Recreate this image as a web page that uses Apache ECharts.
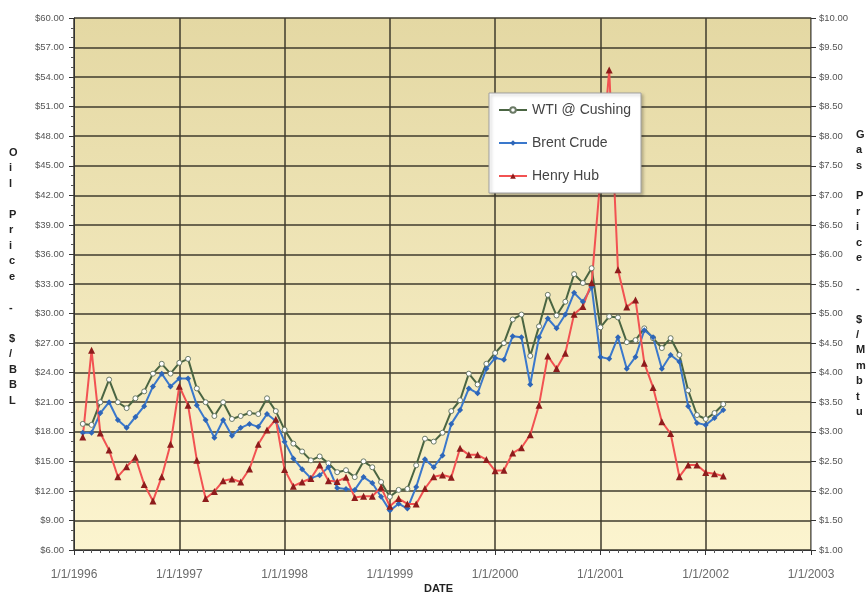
<!DOCTYPE html>
<html>
<head>
    <meta charset="utf-8">
    <title>Oil and Gas Prices</title>
    <script src="https://cdn.jsdelivr.net/npm/echarts@6/dist/echarts.min.js"></script>
</head>
<body style="margin:0;background:#fff;">
<div id="main" style="width:868px;height:592px;"></div>
<script type="text/javascript">
    // monthly points, the first one is Feb 1996 (month offset 1 from 1/1/1996)
    var firstMonth = 1;
    var yearLabels = ['1/1/1996', '1/1/1997', '1/1/1998', '1/1/1999', '1/1/2000', '1/1/2001', '1/1/2002', '1/1/2003'];

    // $/BBL
    var wti = [18.8, 18.7, 21.0, 23.3, 21.0, 20.4, 21.4, 22.1, 23.9, 24.9, 23.9, 25.0,
        25.4, 22.4, 21.0, 19.6, 21.0, 19.3, 19.6, 19.9, 19.8, 21.4, 20.1, 18.2,
        16.8, 16.0, 15.1, 15.5, 14.8, 13.9, 14.1, 13.4, 15.0, 14.4, 12.9, 11.4,
        12.1, 12.2, 14.6, 17.3, 17.0, 17.9, 20.1, 21.2, 23.9, 22.8, 24.9, 26.0,
        27.0, 29.4, 29.9, 25.7, 28.7, 31.9, 29.8, 31.2, 34.0, 33.1, 34.6, 28.6,
        29.7, 29.6, 27.1, 27.3, 28.5, 27.5, 26.5, 27.5, 25.8, 22.2, 19.7, 19.3,
        19.9, 20.8];
    var brent = [17.9, 17.9, 19.9, 21.0, 19.2, 18.4, 19.5, 20.6, 22.6, 23.9, 22.6, 23.4,
        23.4, 20.7, 19.2, 17.4, 19.2, 17.6, 18.4, 18.8, 18.5, 19.8, 19.1, 17.0,
        15.3, 14.2, 13.3, 13.6, 14.4, 12.3, 12.2, 12.1, 13.4, 12.8, 11.4, 10.0,
        10.7, 10.2, 12.4, 15.2, 14.4, 15.6, 18.8, 20.2, 22.4, 21.9, 24.4, 25.5,
        25.3, 27.7, 27.6, 22.8, 27.6, 29.5, 28.5, 29.9, 32.1, 31.2, 32.7, 25.6,
        25.4, 27.6, 24.4, 25.6, 28.3, 27.6, 24.4, 25.8, 25.1, 20.6, 18.9, 18.7,
        19.4, 20.2];
    // $/Mmbtu
    var henryHub = [2.91, 4.38, 2.98, 2.69, 2.24, 2.41, 2.57, 2.11, 1.83, 2.24, 2.79, 3.77,
        3.45, 2.52, 1.87, 1.99, 2.17, 2.20, 2.15, 2.37, 2.79, 3.03, 3.21, 2.36,
        2.08, 2.15, 2.21, 2.44, 2.17, 2.16, 2.23, 1.89, 1.91, 1.91, 2.06, 1.74,
        1.87, 1.78, 1.78, 2.04, 2.24, 2.27, 2.23, 2.72, 2.61, 2.61, 2.53, 2.34,
        2.35, 2.64, 2.73, 2.95, 3.45, 4.28, 4.07, 4.33, 4.99, 5.12, 5.52, 7.30,
        9.12, 5.74, 5.11, 5.23, 4.16, 3.75, 3.17, 2.97, 2.24, 2.44, 2.44, 2.31,
        2.29, 2.25];

    function toPoints(arr) {
        return arr.map(function (v, i) { return [firstMonth + i, v]; });
    }

    var font = 'Liberation Sans, Arial, sans-serif';
    var gridColor = '#3f3b2c';

    var myChart = echarts.init(document.getElementById('main'));
    var option = {
        backgroundColor: '#fff',
        animation: false,
        textStyle: { fontFamily: font },
        grid: {
            left: 74, right: 57, top: 18, bottom: 42,
            show: true,
            borderWidth: 0,
            backgroundColor: new echarts.graphic.LinearGradient(0, 0, 0, 1, [
                { offset: 0, color: '#e4d8a3' },
                { offset: 1, color: '#fcf4cf' }
            ])
        },
        legend: {
            orient: 'vertical',
            left: 489, top: 93,
            padding: [10, 10, 10, 9],
            itemWidth: 28, itemHeight: 7, itemGap: 19,
            backgroundColor: '#fff',
            borderColor: '#a0a0a0', borderWidth: 1,
            shadowColor: 'rgba(0,0,0,0.25)', shadowBlur: 3, shadowOffsetX: 2, shadowOffsetY: 2,
            textStyle: { fontSize: 14, color: '#444', fontFamily: font },
            data: ['WTI @ Cushing', 'Brent Crude', 'Henry Hub']
        },
        xAxis: {
            type: 'value',
            min: 0, max: 84, interval: 12,
            axisLine: { show: true, lineStyle: { color: '#333', width: 1 } },
            axisTick: { show: true, length: 5, lineStyle: { color: '#333' } },
            minorTick: { show: true, splitNumber: 12, length: 3, lineStyle: { color: '#555' } },
            splitLine: { show: true, lineStyle: { color: gridColor, width: 1.5 } },
            axisLabel: {
                margin: 19, fontSize: 12, color: '#6a6a6a',
                formatter: function (v) { return yearLabels[v / 12]; }
            }
        },
        yAxis: [{
            type: 'value',
            min: 6, max: 60, interval: 3,
            axisLine: { show: true, lineStyle: { color: '#333', width: 1 } },
            axisTick: { show: true, length: 5, lineStyle: { color: '#333' } },
            minorTick: { show: true, splitNumber: 3, length: 3, lineStyle: { color: '#555' } },
            splitLine: { show: true, lineStyle: { color: gridColor, width: 1.5 } },
            axisLabel: {
                margin: 10, fontSize: 9.5, color: '#555',
                formatter: function (v) { return '$' + v.toFixed(2); }
            }
        }, {
            type: 'value',
            min: 1, max: 10, interval: 0.5,
            position: 'right',
            axisLine: { show: true, lineStyle: { color: '#999', width: 1 } },
            axisTick: { show: true, length: 5, lineStyle: { color: '#333' } },
            splitLine: { show: false },
            axisLabel: {
                margin: 8, fontSize: 9.5, color: '#555',
                formatter: function (v) { return '$' + v.toFixed(2); }
            }
        }],
        series: [{
            name: 'WTI @ Cushing',
            type: 'line',
            yAxisIndex: 0,
            data: toPoints(wti),
            symbol: 'circle', symbolSize: 5,
            lineStyle: { color: '#4a6542', width: 2 },
            itemStyle: { color: '#ffffff', borderColor: '#6b7a66', borderWidth: 1 }
        }, {
            name: 'Brent Crude',
            type: 'line',
            yAxisIndex: 0,
            data: toPoints(brent),
            symbol: 'diamond', symbolSize: 6,
            lineStyle: { color: '#3a78cc', width: 2 },
            itemStyle: { color: '#2e66b8' }
        }, {
            name: 'Henry Hub',
            type: 'line',
            yAxisIndex: 1,
            data: toPoints(henryHub),
            symbol: 'triangle', symbolSize: 7,
            lineStyle: { color: '#f25252', width: 2 },
            itemStyle: { color: '#8e1c1c' }
        }],
        graphic: [{
            type: 'text', left: 9, top: 145,
            style: {
                text: 'O\ni\nl\n\nP\nr\ni\nc\ne\n\n-\n\n$\n/\nB\nB\nL',
                font: 'bold 11px ' + font, fill: '#222', align: 'center', lineHeight: 15.5
            }
        }, {
            type: 'text', left: 856, top: 127,
            style: {
                text: 'G\na\ns\n\nP\nr\ni\nc\ne\n\n-\n\n$\n/\nM\nm\nb\nt\nu',
                font: 'bold 11px ' + font, fill: '#222', align: 'center', lineHeight: 15.4
            }
        }, {
            type: 'text', left: 424, top: 583,
            style: { text: 'DATE', font: 'bold 11px ' + font, fill: '#222' }
        }]
    };
    myChart.setOption(option);
</script>
</body>
</html>
